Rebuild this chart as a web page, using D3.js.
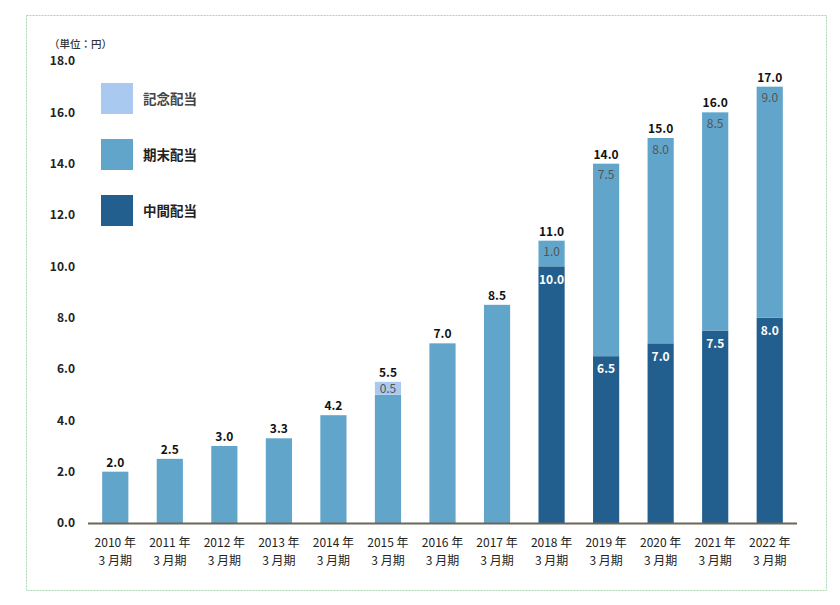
<!DOCTYPE html>
<html><head><meta charset="utf-8">
<script src="https://cdn.jsdelivr.net/npm/d3@7"></script>
<style>body{margin:0;background:#fff}svg{display:block}text{font-family:"Noto Sans CJK JP","Noto Sans",sans-serif}</style>
</head><body><svg id="c" width="840" height="605"></svg>
<script>
const years = ["2010","2011","2012","2013","2014","2015","2016","2017","2018","2019","2020","2021","2022"];
const interim = [0,0,0,0,0,0,0,0,10.0,6.5,7.0,7.5,8.0];          // 中間配当
const yearEnd = [2.0,2.5,3.0,3.3,4.2,5.0,7.0,8.5,1.0,7.5,8.0,8.5,9.0]; // 期末配当
const memorial = [0,0,0,0,0,0.5,0,0,0,0,0,0,0];                  // 記念配当
const totals = [2.0,2.5,3.0,3.3,4.2,5.5,7.0,8.5,11.0,14.0,15.0,16.0,17.0];
const yTicks = [0,2,4,6,8,10,12,14,16,18];
const seriesNames = ["中間配当","期末配当","記念配当"];
const colors = {"中間配当":"#235f8e","期末配当":"#62a5cb","記念配当":"#a9c9f1"};

const svg = d3.select("#c");
svg.append("rect").attr("x",26.5).attr("y",15.5).attr("width",800).attr("height",575)
  .attr("fill","none").attr("stroke","#a9d7ae").attr("stroke-dasharray","2,1");

const x = d3.scaleBand().domain(years).range([88,797]).paddingInner(0.52).paddingOuter(0.26);
const y = d3.scaleLinear().domain([0,18]).range([523,61]);

const rows = years.map((yr,i)=>({year:yr,"中間配当":interim[i],"期末配当":yearEnd[i],"記念配当":memorial[i],total:totals[i]}));
const stack = d3.stack().keys(seriesNames)(rows);

// y axis labels
const yAxis = d3.axisLeft(y).tickValues(yTicks).tickFormat(d3.format(".1f")).tickSize(0).tickPadding(0);
const ya = svg.append("g").attr("transform","translate(75,0)").call(yAxis);
ya.select(".domain").remove();
ya.selectAll("text").attr("font-size",12).attr("font-weight",600).attr("fill","#222")
  .attr("font-family","'Noto Sans CJK JP',sans-serif");

svg.append("text").attr("x",49).attr("y",48).attr("font-size",10.5).attr("fill","#333").attr("font-weight",500).text("（単位：円）");

// bars
stack.forEach(s=>{
  const g = svg.append("g");
  g.selectAll("rect").data(s.filter(d=>d[1]-d[0]>0)).join("rect")
    .attr("x",d=>x(d.data.year)).attr("width",x.bandwidth())
    .attr("y",d=>y(d[1])).attr("height",d=>y(d[0])-y(d[1]))
    .attr("fill",colors[s.key]);
});

// segment labels
stack.forEach(s=>{
  const data = s.filter(d=>d[1]-d[0]>0 && !(s.key==="期末配当" && d.data["中間配当"]===0));
  svg.append("g").selectAll("text").data(data).join("text")
    .attr("x",d=>x(d.data.year)+x.bandwidth()/2)
    .attr("y",d=>{const t=y(d[1]),h=y(d[0])-y(d[1]); return t+Math.min(h/2,s.key==="中間配当"?13:11.5);})
    .attr("dy","0.36em").attr("text-anchor","middle").attr("font-size",12)
    .attr("font-weight",s.key==="中間配当"?700:400)
    .attr("fill",s.key==="中間配当"?"#fff":"#555")
    .text(d=>d3.format(".1f")(d[1]-d[0]));
});

// totals
svg.append("g").selectAll("text").data(rows).join("text")
  .attr("x",d=>x(d.year)+x.bandwidth()/2).attr("y",d=>y(d.total)-5)
  .attr("text-anchor","middle").attr("font-size",12).attr("font-weight",700).attr("fill","#111")
  .text(d=>d3.format(".1f")(d.total));

// baseline
svg.append("line").attr("x1",88).attr("x2",797).attr("y1",y(0)+0.5).attr("y2",y(0)+0.5)
  .attr("stroke","#6d6656").attr("stroke-width",2);

// x labels
const xl = svg.append("g").selectAll("text").data(years).join("text")
  .attr("x",d=>x(d)+x.bandwidth()/2).attr("text-anchor","middle").attr("font-size",12).attr("fill","#222");
xl.append("tspan").attr("x",d=>x(d)+x.bandwidth()/2).attr("y",547).text(d=>d+" 年");
xl.append("tspan").attr("x",d=>x(d)+x.bandwidth()/2).attr("y",565).text("3 月期");

// legend
const legendOrder = ["記念配当","期末配当","中間配当"];
const lg = svg.append("g").selectAll("g").data(legendOrder).join("g")
  .attr("transform",(d,i)=>`translate(101,${83+i*56})`);
lg.append("rect").attr("width",32).attr("height",31).attr("fill",d=>colors[d]);
lg.append("text").attr("x",42).attr("y",16).attr("dy","0.36em").attr("font-size",13.5)
  .attr("font-weight",600).attr("fill",d=>d==="記念配当"?"#444":"#222").text(d=>d);
</script></body></html>
